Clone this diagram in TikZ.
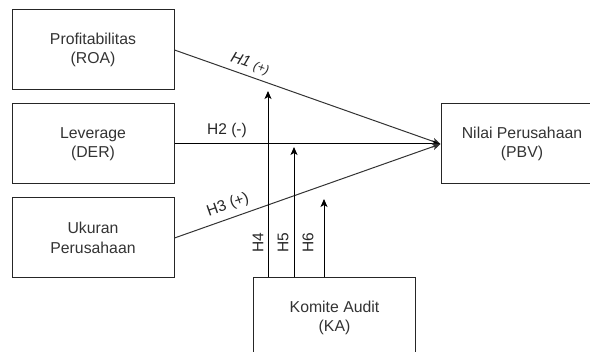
\documentclass[tikz,border=0pt]{standalone}
\usepackage{fontspec}
\setmainfont{Liberation Sans}
\usetikzlibrary{arrows.meta}
\begin{document}
\begin{tikzpicture}[x=1pt,y=-1pt,
  box/.style={draw=black!85,line width=1pt,minimum width=162pt,minimum height=80pt,inner sep=0pt,align=center,font=\fontsize{15.8}{19.5}\selectfont,text=black!80},
  conn/.style={line width=1pt,-{Stealth[length=8pt,width=7pt,inset=2pt]}},
  lbl/.style={font=\fontsize{15.5}{18}\selectfont,text=black!85,inner sep=0pt}]
\useasboundingbox (0,0) rectangle (590,352);
\node[box] (prof) at (93,50) {Profitabilitas\\(ROA)};
\node[box] (lev) at (93,144) {Leverage\\(DER)};
\node[box] (uk) at (93,238) {Ukuran\\Perusahaan};
\node[box] (nilai) at (522,144) {Nilai Perusahaan\\(PBV)};
\node[box] (ka) at (334.5,318) {Komite Audit\\(KA)};
\coordinate (t4) at (268,91);
\coordinate (t5) at (294,147);
\coordinate (t6) at (324,199);
\draw[conn,draw=black!80] (prof.east) -- (nilai.west);
\draw[conn] (lev.east) -- (nilai.west);
\draw[conn,draw=black!80] (uk.east) -- (nilai.west);
\draw[conn] (ka.north -| t4) -- (t4);
\draw[conn] (ka.north -| t5) -- (t5);
\draw[conn] (ka.north -| t6) -- (t6);
\node[lbl,rotate=-19.4,font=\fontsize{15.5}{18}\selectfont\itshape] (l1) at (250,64) {H1 {\fontsize{12.5}{14}\selectfont(+)}};
\node[lbl] (l2) at (227,130) {H2 (-)};
\node[lbl,rotate=19.4] (l3) at (228,205) {H3 (+)};
\node[lbl,rotate=90] (l4) at (258,243) {H4};
\node[lbl,rotate=90] (l5) at (283,243) {H5};
\node[lbl,rotate=90] (l6) at (308,243) {H6};
\end{tikzpicture}
\end{document}
